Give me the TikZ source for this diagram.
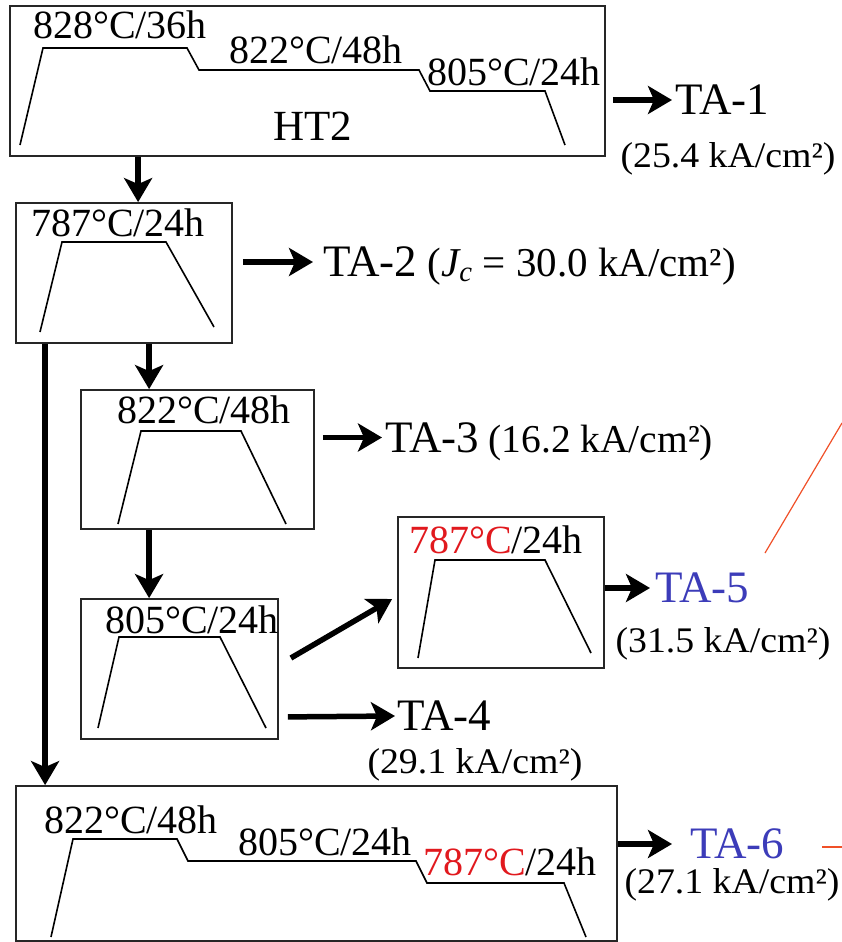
\documentclass[tikz,border=0pt]{standalone}
\usepackage{fontspec}
\setmainfont{Liberation Serif}
\usetikzlibrary{arrows.meta,positioning}
\definecolor{tred}{RGB}{225,25,30}
\definecolor{tblue}{RGB}{60,60,185}
\definecolor{lred}{RGB}{240,80,40}
\begin{document}
\begin{tikzpicture}[x=1pt,y=-1pt,
    box/.style={draw=black!85,line width=1.8pt,inner sep=0pt},
    prof/.style={line width=1.6pt},
    temp/.style={inner sep=0pt,font=\fontsize{40}{42}\selectfont},
    talab/.style={inner sep=0pt,anchor=west,font=\fontsize{45}{47}\selectfont},
    vallab/.style={inner sep=0pt,anchor=base,font=\fontsize{36}{38}\selectfont\addfontfeature{FakeStretch=1.05}},
    arr/.style={line width=5.5pt,-{Stealth[length=24pt 0,width=28pt 0,inset=6pt]}}]
    \useasboundingbox (0,0) rectangle (842,942);
    \node[box,minimum width=595,minimum height=150] (ht2) at (307.5,81) {};
    \node[box,minimum width=216,minimum height=140] (b2) at (124,273) {};
    \node[box,minimum width=233,minimum height=139] (b3) at (197.5,459.5) {};
    \node[box,minimum width=197,minimum height=140] (b4) at (179.5,669) {};
    \node[box,minimum width=206,minimum height=151] (b5) at (501,592.5) {};
    \node[box,minimum width=601,minimum height=155] (b6) at (316.5,863.5) {};
    \draw[prof] (20,145) -- (43,48) -- (187,48) -- (199,70) -- (419,70) -- (430,91) -- (545,91) -- (565,145);
    \draw[prof] (40,332) -- (62,242) -- (166,242) -- (214,327);
    \draw[prof] (118,524) -- (141,431) -- (241,431) -- (286,524);
    \draw[prof] (98,728) -- (119,637) -- (220,637) -- (266,728);
    \draw[prof] (418,658) -- (435,560) -- (545,560) -- (591,653);
    \draw[prof] (51,937) -- (73,839) -- (177,839) -- (188,861) -- (416,861) -- (427,883) -- (564,883) -- (586,937);
    \node[temp] (t1) at (120,25) {828°C/36h};
    \node[temp] (t2) at (316,50) {822°C/48h};
    \node[temp] (t3) at (514,72) {805°C/24h};
    \node[temp,font=\fontsize{43}{45}\selectfont] (lht2) at (313,126) {HT2};
    \node[temp] (t4) at (118,223) {787°C/24h};
    \node[temp] (t5) at (204,410) {822°C/48h};
    \node[temp] (t6) at (192,620) {805°C/24h};
    \node[temp] (t7) at (496,540) {{\color{tred}787°C}/24h};
    \node[temp] (t8) at (131,820) {822°C/48h};
    \node[temp] (t9) at (325,842) {805°C/24h};
    \node[temp] (t10) at (510,862) {{\color{tred}787°C}/24h};
    \node[talab] (ta1) at (675,100) {TA-1};
    \node[vallab] (v1) at (728,167) {(25.4 kA/cm²)};
    \node[talab] (ta2) at (323,262) {TA-2};
    \node[base right=10pt of ta2,inner sep=0pt,font=\fontsize{41}{43}\selectfont] (v2) {({\itshape J}\textsubscript{\itshape c} = 30.0 kA/cm²)};
    \node[talab] (ta3) at (385,437.5) {TA-3};
    \node[base right=9pt of ta3,inner sep=0pt,font=\fontsize{39.5}{42}\selectfont] (v3) {(16.2 kA/cm²)};
    \node[talab,text=tblue] (ta5) at (655,588) {TA-5};
    \node[vallab] (v5) at (723,652) {(31.5 kA/cm²)};
    \node[talab] (ta4) at (397,716) {TA-4};
    \node[vallab] (v4) at (475,773) {(29.1 kA/cm²)};
    \node[talab,text=tblue] (ta6) at (690,844) {TA-6};
    \node[vallab] (v6) at (732,893) {(27.1 kA/cm²)};
    \draw[arr] ([xshift=129pt]ht2.south west) -- ([xshift=123pt]b2.north west);
    \draw[arr] ([xshift=134pt]b2.south west) -- ([xshift=69pt]b3.north west);
    \draw[arr] ([xshift=30pt]b2.south west) -- ([xshift=30pt]b6.north west);
    \draw[arr] ([xshift=69pt]b3.south west) -- ([xshift=69pt]b4.north west);
    \draw[arr] ([xshift=12pt,yshift=11pt]b4.east) -- ([xshift=-5pt,yshift=-6.5pt]b5.west);
    \draw[arr] ([xshift=7pt,yshift=-19pt]ht2.east) -- ([xshift=-3pt]ta1.west);
    \draw[arr] ([xshift=10pt,yshift=11pt]b2.east) -- ([xshift=-10pt]ta2.west);
    \draw[arr] ([xshift=8pt,yshift=22pt]b3.east) -- ([xshift=-3pt]ta3.west);
    \draw[arr] ([yshift=4.5pt]b5.east) -- ([xshift=-5pt]ta5.west);
    \draw[arr] ([xshift=9pt,yshift=23pt]b4.south east) -- ([xshift=-2pt]ta4.west);
    \draw[arr] ([yshift=19.5pt]b6.east) -- ([xshift=-18pt]ta6.west);
    \draw[lred,line width=1.2pt] (765,553) -- (842,423);
    \draw[lred,line width=1.2pt] (822,847) -- (842,847);
\end{tikzpicture}
\end{document}
